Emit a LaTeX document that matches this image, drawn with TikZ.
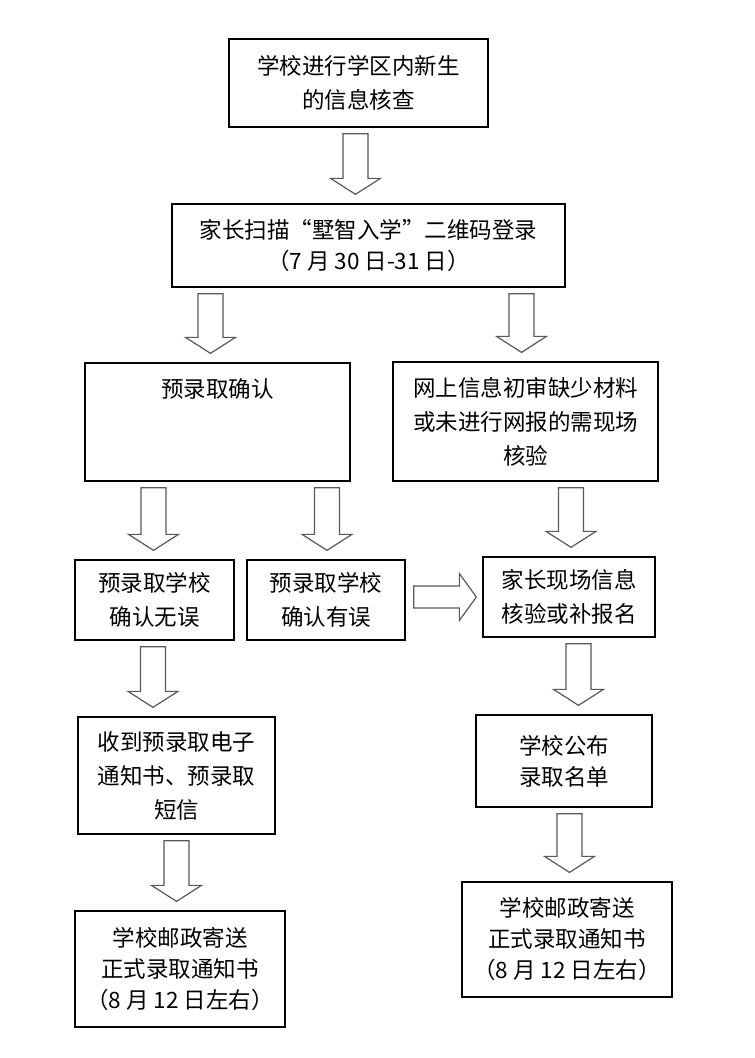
\documentclass[tikz,border=0pt]{standalone}
\usepackage{fontspec}
\setmainfont{Noto Sans CJK SC}
\usetikzlibrary{calc}
\tikzset{
  box/.style={draw=black, line width=1.3pt, inner sep=0pt, align=center,
    font=\fontsize{22.5}{34}\selectfont},
  tight/.style={font=\fontsize{22.5}{31}\selectfont},
  bigarrow/.style={draw=black!65, line width=1.2pt, fill=white, line join=miter},
}
\newcommand{\arrowdown}[3]{%
  \draw[bigarrow] let \p1=(#1.south), \p2=(#2.north) in
    (#3pt-12.5pt,\y1-6pt) -- (#3pt+12.5pt,\y1-6pt) -- (#3pt+12.5pt,\y2+25pt)
    -- (#3pt+25pt,\y2+25pt) -- (#3pt,\y2+9pt) -- (#3pt-25pt,\y2+25pt)
    -- (#3pt-12.5pt,\y2+25pt) -- cycle;}
\newcommand{\arrowright}[2]{%
  \draw[bigarrow] let \p1=(#1.east), \p2=(#2.west) in
    (\x1+8pt,\y2+11pt) -- (\x2-23pt,\y2+11pt) -- (\x2-23pt,\y2+23.5pt)
    -- (\x2-6pt,\y2) -- (\x2-23pt,\y2-23.5pt) -- (\x2-23pt,\y2-11pt)
    -- (\x1+8pt,\y2-11pt) -- cycle;}

\begin{document}
\begin{tikzpicture}[x=1pt,y=-1pt]

  \fill[white] (0,0) rectangle (755,1058);

  \node[box, minimum width=259pt, minimum height=88pt] (check) at (358.5,83)
    {学校进行学区内新生\\的信息核查};
  \node[box, tight, minimum width=393pt, minimum height=83pt] (login) at (368.5,245.5)
    {家长扫描“墅智入学”二维码登录\\（7 月 30 日-31 日）};

  \node[box, minimum width=265pt, minimum height=118pt] (confirm) at (217.5,422) {};
  \node[font=\fontsize{22.5}{34}\selectfont, inner sep=0pt] (confirmtitle)
    at ($(confirm.north)+(0,27)$) {预录取确认};
  \node[box, minimum width=265pt, minimum height=119pt] (onsite) at (525.5,421.5)
    {网上信息初审缺少材料\\或未进行网报的需现场\\核验};

  \node[box, minimum width=159pt, minimum height=80pt] (correct) at (154.5,600)
    {预录取学校\\确认无误};
  \node[box, minimum width=158pt, minimum height=80pt] (wrong) at (326,600)
    {预录取学校\\确认有误};
  \node[box, minimum width=172pt, minimum height=80pt] (verify) at (569,597)
    {家长现场信息\\核验或补报名};

  \node[box, minimum width=197pt, minimum height=117pt] (notice) at (176.5,775.5)
    {收到预录取电子\\通知书、预录取\\短信};
  \node[box, tight, minimum width=176pt, minimum height=92pt] (publish) at (564,761)
    {学校公布\\录取名单};

  \node[box, tight, minimum width=210pt, minimum height=116pt] (mailleft) at (180,969)
    {学校邮政寄送\\正式录取通知书\\（8 月 12 日左右）};
  \node[box, tight, minimum width=210pt, minimum height=115pt] (mailright) at (567,939.5)
    {学校邮政寄送\\正式录取通知书\\（8 月 12 日左右）};

  \arrowdown{check}{login}{355.5}
  \arrowdown{login}{confirm}{210.5}
  \arrowdown{login}{onsite}{521.5}
  \arrowdown{confirm}{correct}{153.5}
  \arrowdown{confirm}{wrong}{327}
  \arrowdown{onsite}{verify}{571}
  \arrowdown{correct}{notice}{153}
  \arrowright{wrong}{verify}
  \arrowdown{verify}{publish}{578.5}
  \arrowdown{notice}{mailleft}{176.5}
  \arrowdown{publish}{mailright}{569.5}

\end{tikzpicture}
\end{document}
